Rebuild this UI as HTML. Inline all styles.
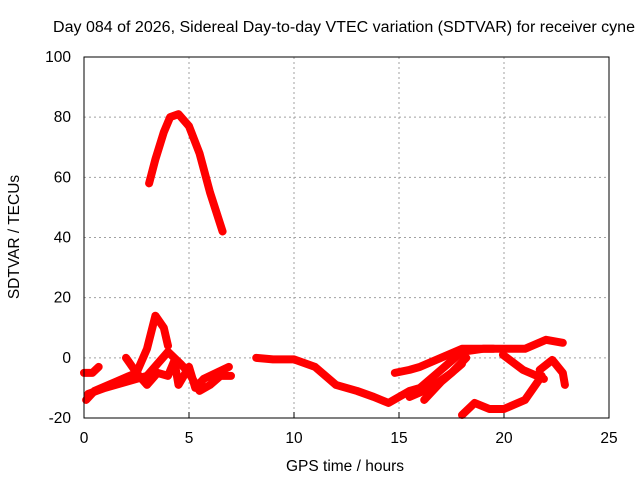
<!DOCTYPE html>
<html><head><meta charset="utf-8"><style>
body{margin:0;background:#fff}
svg text{font-family:"Liberation Sans",sans-serif;font-size:15.5px;fill:#000}
</style></head><body>
<svg id="c" width="640" height="480">
<text x="53" y="32" textLength="582" lengthAdjust="spacingAndGlyphs">Day 084 of 2026, Sidereal Day-to-day VTEC variation (SDTVAR) for receiver cyne</text>
<text x="345" y="471" text-anchor="middle">GPS time / hours</text>
<text transform="translate(19,237) rotate(-90)" text-anchor="middle">SDTVAR / TECUs</text>
<g id="grid"></g><g id="marks"></g>
<rect x="84" y="57" width="525" height="361" fill="none" stroke="#000" stroke-width="1"/>
</svg>
<script>
const xTicks=[0,5,10,15,20,25];
const yTicks=[-20,0,20,40,60,80,100];
const s1=[[3.1,58],[3.4,66],[3.8,75],[4.1,80],[4.5,81],[5.0,77],[5.5,68],[6.0,55],[6.6,42]];
const s2=[[0.1,-14],[0.5,-11],[1.5,-8],[2.5,-5],[3.0,3],[3.4,14],[3.8,10],[4.0,4]];
const s3=[[0.0,-5],[0.4,-5],[0.7,-3]];
const s4=[[2.0,0],[2.5,-5],[3.0,-9],[3.5,-5],[4.0,-6],[4.3,-1],[4.5,-9],[5.0,-3],[5.3,-10],[5.7,-7],[6.3,-5],[6.9,-3]];
const s5=[[0.2,-12],[1,-10],[2,-8],[3,-6],[4,2],[4.6,-2],[5,-5],[5.5,-11],[6,-9],[6.5,-6],[7,-6]];
const s6=[[8.2,0],[9,-0.5],[10,-0.5],[11,-3],[12,-9],[13,-11],[13.8,-13],[14.5,-15],[15,-13],[15.5,-11],[16,-10],[16.5,-7],[17,-4],[17.5,-1],[18,2],[19,3],[20,3],[21,3],[22,6],[22.8,5]];
const s7=[[14.8,-5],[15.5,-4],[16,-3],[17,0],[18,3],[19.5,3]];
const s8=[[15.5,-13],[16.5,-10],[17.5,-5],[18.2,0]];
const s9=[[16.2,-14],[17,-8],[18,-2]];
const s10=[[18,-19],[18.6,-15],[19.3,-17],[20,-17],[21,-14],[21.5,-9],[21.8,-6]];
const s11=[[19.95,1],[20.9,-4],[21.9,-7]];
const s12=[[21.7,-4],[22.3,-0.7],[22.8,-5],[22.9,-9]];
const series=[s1,s2,s3,s4,s5,s6,s7,s8,s9,s10,s11,s12];
const X=h=>84+h*21, Y=v=>418-(v+20)*361/120;
const NS="http://www.w3.org/2000/svg";
const g=document.getElementById('grid'), m=document.getElementById('marks');
function el(t,a,p){const e=document.createElementNS(NS,t);for(const k in a)e.setAttribute(k,a[k]);p.appendChild(e);return e;}
xTicks.forEach(t=>{
 if(t>0&&t<25){const l=el('line',{x1:X(t),x2:X(t),y1:57,y2:418,stroke:'#a0a0a0','stroke-dasharray':'2,3'},g);
 
 }
 const tk=el('line',{x1:X(t),x2:X(t),y1:418,y2:412,stroke:'#000'},g);
 
 
 const tx=el('text',{x:X(t),y:443,'text-anchor':'middle'},g);tx.textContent=t;
 
 
});
yTicks.forEach(t=>{
 if(t>-20&&t<100){const l=el('line',{x1:84,x2:609,y1:Y(t),y2:Y(t),stroke:'#a0a0a0','stroke-dasharray':'2,3'},g);
 
 }
 const tx=el('text',{x:71,y:Y(t)+5,'text-anchor':'end'},g);tx.textContent=t;
 
 
});
series.forEach((s,i)=>{
 const p=el('polyline',{points:s.map(d=>X(d[0])+','+Y(d[1])).join(' '),fill:'none',stroke:'#ff0000','stroke-width':8,'stroke-linejoin':'round','stroke-linecap':'round'},m);
 
 
});
</script>
</body></html>
